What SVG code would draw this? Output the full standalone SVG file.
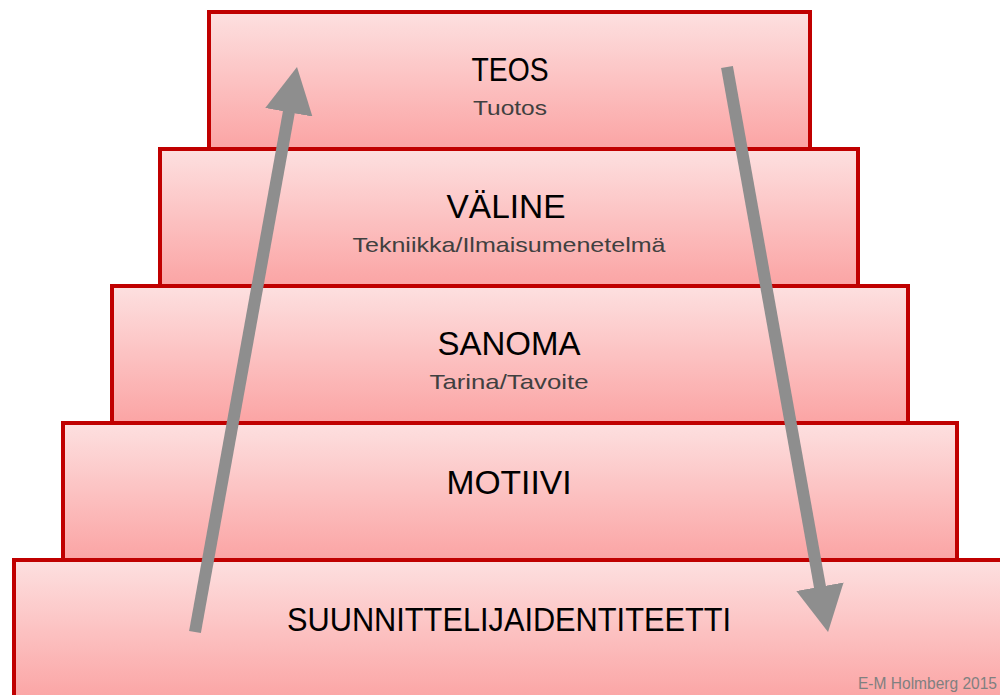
<svg xmlns="http://www.w3.org/2000/svg" width="1000" height="695" viewBox="0 0 1000 695">
<defs>
<linearGradient id="g" x1="0" y1="0" x2="0" y2="1">
<stop offset="0" stop-color="#FDE0E0"/>
<stop offset="1" stop-color="#FBA4A4"/>
</linearGradient>
<marker id="ah" markerUnits="userSpaceOnUse" viewBox="0 0 46 48" refX="6" refY="24" markerWidth="46" markerHeight="48" orient="auto">
<path d="M0,0 L46,24 L0,48 Z" fill="#8E8E8E"/>
</marker>
<style>
.box{fill:url(#g);stroke:#C00000;stroke-width:4}
.t{font-family:"Liberation Sans",Arial,sans-serif;font-size:33px;fill:#000;text-anchor:middle}
.s{font-family:"Liberation Sans",Arial,sans-serif;font-size:21px;fill:#404040;text-anchor:middle}
.c{font-family:"Liberation Sans",Arial,sans-serif;font-size:16px;fill:#808080;text-anchor:end}
.arr{stroke:#8E8E8E;stroke-width:12;fill:none;marker-end:url(#ah)}
</style>
</defs>
<rect width="1000" height="695" fill="#fff"/>
<g id="suunnittelijaidentiteetti">
<rect class="box" x="14" y="560" width="990" height="140"/>
<text class="t" x="509" y="631" textLength="444" lengthAdjust="spacingAndGlyphs">SUUNNITTELIJAIDENTITEETTI</text>
</g>
<g id="motiivi">
<rect class="box" x="63" y="423" width="894" height="137"/>
<text class="t" x="509" y="494" textLength="125" lengthAdjust="spacingAndGlyphs">MOTIIVI</text>
</g>
<g id="sanoma">
<rect class="box" x="112" y="286" width="796" height="137"/>
<text class="t" x="509" y="355" textLength="143" lengthAdjust="spacingAndGlyphs">SANOMA</text>
<text class="s" x="509" y="389" textLength="159" lengthAdjust="spacingAndGlyphs">Tarina/Tavoite</text>
</g>
<g id="valine">
<rect class="box" x="160" y="149" width="698" height="137"/>
<text class="t" x="506" y="218" textLength="119" lengthAdjust="spacingAndGlyphs">VÄLINE</text>
<text class="s" x="509" y="252" textLength="313" lengthAdjust="spacingAndGlyphs">Tekniikka/Ilmaisumenetelmä</text>
</g>
<g id="teos">
<rect class="box" x="209" y="12" width="601" height="137"/>
<text class="t" x="510" y="81" textLength="77" lengthAdjust="spacingAndGlyphs">TEOS</text>
<text class="s" x="510" y="115" textLength="74" lengthAdjust="spacingAndGlyphs">Tuotos</text>
</g>
<g id="connectors">
<line class="arr" x1="195" y1="632" x2="289.9" y2="106.4"/>
<line class="arr" x1="727" y1="67" x2="821" y2="592.6"/>
</g>
<text class="c" x="997" y="689" textLength="139" lengthAdjust="spacingAndGlyphs">E-M Holmberg 2015</text>
</svg>
